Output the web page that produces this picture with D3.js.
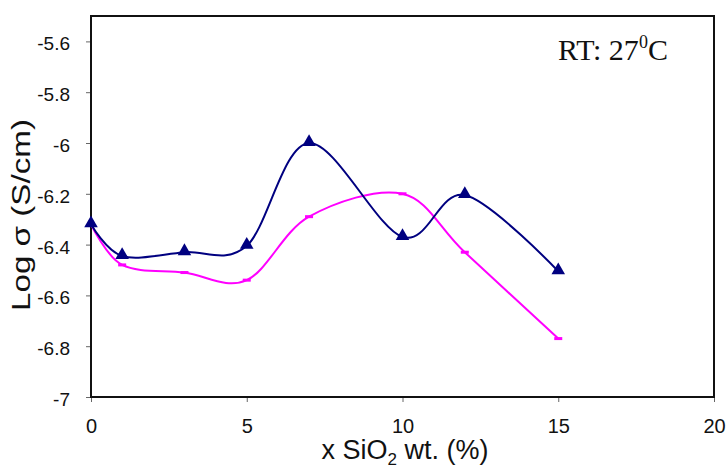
<!DOCTYPE html>
<html><head><meta charset="utf-8">
<script src="https://cdn.jsdelivr.net/npm/d3@7"></script>
<style>body{margin:0;background:#fff}svg{display:block}</style>
</head><body>
<script>
const xValues = [0, 1, 3, 5, 7, 10, 12, 15];
const seriesTriangle = [-6.32, -6.445, -6.43, -6.405, -6.0, -6.37, -6.205, -6.505];
const seriesDash = [-6.32, -6.48, -6.51, -6.54, -6.29, -6.2, -6.43, -6.77];
const xTicks = [0, 5, 10, 15, 20];
const yTicks = [-7, -6.8, -6.6, -6.4, -6.2, -6, -5.8, -5.6];

const W = 728, H = 468;
const svg = d3.select("body").append("svg").attr("width", W).attr("height", H);
const x = d3.scaleLinear().domain([0, 20]).range([91, 714]);
const y = d3.scaleLinear().domain([-7, -5.5]).range([397, 16]);

// axes
const yAxis = svg.append("g").attr("transform", "translate(91,0)")
  .call(d3.axisLeft(y).tickValues(yTicks).tickFormat(d => String(+d.toFixed(1))).tickSize(5).tickSizeOuter(0).tickPadding(16));
const xAxis = svg.append("g").attr("transform", "translate(0,397)")
  .call(d3.axisBottom(x).tickValues(xTicks).tickSize(5).tickSizeOuter(0).tickPadding(17));
[yAxis, xAxis].forEach(g => {
  g.select(".domain").remove();
  g.selectAll("line").attr("stroke", "#666").attr("stroke-width", 1);
  g.selectAll("text").attr("font-family", "Liberation Sans, Arial, sans-serif").attr("font-size", 19).attr("fill", "#111");
});
yAxis.selectAll("text").attr("dy", "0.45em");
xAxis.selectAll("text").attr("font-size", 20);

// frame
svg.append("rect").attr("x", 91).attr("y", 16).attr("width", 623).attr("height", 381)
  .attr("fill", "none").attr("stroke", "#111").attr("stroke-width", 2);

const line = d3.line().curve(d3.curveCardinal.tension(0)).x(d => x(d[0])).y(d => y(d[1]));
const dTri = xValues.map((v, i) => [v, seriesTriangle[i]]);
const dDash = xValues.map((v, i) => [v, seriesDash[i]]);

svg.append("path").attr("d", line(dDash)).attr("fill", "none").attr("stroke", "#ff00ff").attr("stroke-width", 2);
svg.append("path").attr("d", line(dTri)).attr("fill", "none").attr("stroke", "#000080").attr("stroke-width", 2);

svg.selectAll(".dash").data(dDash).enter().append("rect")
  .attr("x", d => x(d[0]) - 4).attr("y", d => y(d[1]) - 1.5).attr("width", 8).attr("height", 3)
  .attr("fill", "#ff00ff");
svg.selectAll(".tri").data(dTri).enter().append("path")
  .attr("d", d3.symbol().type(d3.symbolTriangle).size(80))
  .attr("transform", d => `translate(${x(d[0])},${y(d[1]) - 1})`)
  .attr("fill", "#000080");

// titles
svg.append("text").attr("transform", "translate(30,215) rotate(-90)").attr("text-anchor", "middle")
  .attr("font-family", "Liberation Sans, Arial, sans-serif").attr("font-size", 25).attr("fill", "#111")
  .attr("textLength", 192).attr("lengthAdjust", "spacingAndGlyphs")
  .text("Log σ (S/cm)");
const xt = svg.append("text").attr("x", 405).attr("y", 459).attr("text-anchor", "middle")
  .attr("font-family", "Liberation Sans, Arial, sans-serif").attr("font-size", 27).attr("fill", "#111");
xt.append("tspan").text("x SiO");
xt.append("tspan").attr("font-size", 17).attr("dy", 6).text("2");
xt.append("tspan").attr("dy", -6).text(" wt. (%)");

const rt = svg.append("text").attr("x", 558).attr("y", 60)
  .attr("font-family", "Liberation Serif, Times New Roman, serif").attr("font-size", 30).attr("fill", "#111");
rt.append("tspan").text("RT: 27");
rt.append("tspan").attr("font-size", 18).attr("dy", -12).text("0");
rt.append("tspan").attr("dy", 12).text("C");
</script>
</body></html>
